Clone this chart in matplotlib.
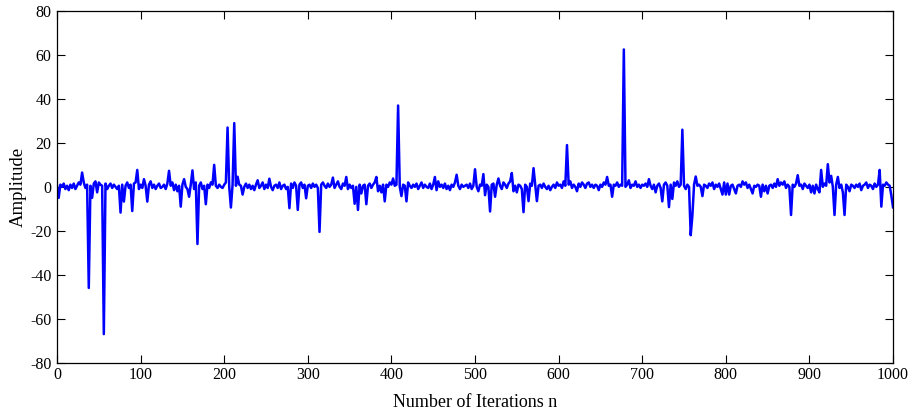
import matplotlib
matplotlib.use("Agg")
import matplotlib.pyplot as plt
import numpy as np

plt.rcParams['font.family'] = ['Liberation Serif', 'DejaVu Serif']
plt.rcParams['axes.unicode_minus'] = False

# amplitude, one value every 2 iterations (n = 0, 2, ..., 1000)
amp_rows = [
    [0.5, -5, 1, 0, 1.5, -1, 0.5, -1.5, 1, -0.5, 1.5, -1, 0.5, 2, 1, 6.5, 2, -0.5, 1, -46, 0.5, -5, 1.5, 2.5, -2.5],
    [2, 1, 0.5, -67, 1.5, -1, 0.5, 1.5, -0.5, 1, 0, -1, 0.5, -11.7, 1, -6.7, 0.5, 2, -0.5, 1, -11, 1.5, 2, 7.7, -1],
    [1, -0.5, 3.5, 0.5, -6.7, 1, 2.5, -0.5, 1, -1, 0.5, 1.5, -0.5, 0, 1, -1, 1.5, 7.3, 0.5, 2, -1.5, 1, -2, 0.5, -9],
    [1, 3.5, 0, -1, -4.5, 1, 7.5, -1, 2, -26, 0.5, 2, -1, 0.5, -7.9, 1, -0.5, 2, 1, 10, 0.5, -0.5, 1, 0, -0.5],
    [1, 2, 27, 0, -9.4, 1, 29, 0.5, 4.6, 1, 0.5, -3.5, 0, 1.5, -0.5, 1, -1, 0.5, -1.5, 1, 3, -0.5, 0.5, 2, -1],
    [1, -0.5, 3.7, 0, -1.5, 0.5, 1, -0.5, 2, -1, 0.5, 1, -1, 0, -9.7, 1.5, -0.5, 2, 0.5, -10.5, 1, 2, -0.5, 1, -5.2],
    [0.5, 1, -0.5, 1.5, 0, 1, -0.5, -20.5, 1, 2, 0.5, -0.5, 1.5, 0, 1, 4.2, -0.5, 1, 2.5, 0, -1, 1.5, 0.5, 4.5, -1],
    [1, -0.5, 0.5, -7.7, 0, -10.5, 1, -3, 0.5, 1, -7.9, 0.5, 1.5, -0.5, 1, 2, 4.5, -2, 0.5, -2.5, 1, -6.6, 1, 0, 2],
    [1, 3.8, 0.5, 1, 37, 0, -4.2, 1, 0.5, -6.6, 2, 0.5, -0.5, 1, 0, 1.5, -1, 0.5, 2, -0.5, 1, 0, -0.5, 1.5, -1],
    [1, 4.5, -1.5, 2.5, 0, 1, -0.5, 1.5, -1, 0.5, -1.5, 1, 0, 2, 5.5, 0.5, -1, 1, 0, 0.5, 1, -0.5, 1.5, -1, 0.5],
    [8, 0, -2, 1, 0.5, 5.8, -3.8, 1, 0, -11.2, 1, 1.5, -4.5, 1, 3.8, 0.5, -1, 2, 1, -0.5, 1.5, 2.5, 6.3, -2, 0.5],
    [-2.5, 1, 0.5, -1, -11.5, 1, 0, -6.5, 1.5, 0.5, 8.5, 1, -6.5, 0.5, 1, -0.5, 1.5, 0, -1, 0.5, -1.5, 0, 1, -0.5, 2],
    [0.5, 1, -0.5, 2.5, 0.5, 19, 1, 2.5, -0.5, 1, 0, -2, 1.5, 0, 2, 1, -0.5, 1.5, 2, 0, 1, -0.5, 1, 0.5, -1.5],
    [1, 0, 2, 1, 4.5, 0.5, 1, -4.5, 1, 0.5, 2, 0, 1, 0.5, 62.5, 0, 1, 3, -0.5, 1, 0.5, 2.5, 0, 1, -0.5],
    [1, 0.5, 1.5, 0, 3.5, 0.5, -1, 1, -2.5, 0.5, 1.5, -0.5, -6.6, 1, 2, 0.5, -9.2, 1, -5.5, 2, 0.5, 2.5, 0, 1, 26],
    [0.5, -1, 1, 0, -22, -13, 1, 4.7, 0.5, 1, 0, -4.2, 1, 0.5, -0.5, 1.5, 0.5, 2, -1, 1, 0, 1.5, -1, -3.5, 2],
    [-3.5, 1.5, -3.5, 0.5, 1, -1, -3, 0.5, 1, 0, 2.5, 1, 2, -0.5, 1, -1, -3, 0.5, 0, 1, 0.5, -4.5, 1, -2, 0.5],
    [-3, 0.5, 1, -0.5, 1.5, 0, 3.5, 0.5, 2, 1, 2.5, -0.5, 1, 0, -12.8, 1, 0, 1.5, 5.3, 0.5, 1, -1, 1.5, 0.5, -0.5],
    [1, -2.5, 0.5, -3, 1, -1, -2.5, 7.7, 0, 1.5, 0.5, 10.3, 2, 5, 0, -12.8, 1, 4.5, -0.5, 1, -2.5, -12.8, 1, 0, -2],
    [1, 0.5, -0.5, 1, 0, 1.5, -1.5, 0.5, 1, 2, -0.5, 1, 0.5, -1, 1.5, 0, 1, 7.7, -9, 1, 0.5, 2, 1, 0.5, -4],
    [-9.3],
]
amp = np.concatenate([np.array(r, dtype=float) for r in amp_rows])
n = np.arange(len(amp)) * 2

xticks = [0, 100, 200, 300, 400, 500, 600, 700, 800, 900, 1000]
yticks = [-80, -60, -40, -20, 0, 20, 40, 60, 80]

fig = plt.figure(figsize=(9.18, 4.17), dpi=100)
ax = fig.add_axes([0.0621, 0.1302, 0.9107, 0.8434])

ax.plot(n, amp, color='#0000ff', lw=1.8)

ax.set_xlim(0, 1000)
ax.set_ylim(-80, 80)
ax.set_xticks(xticks)
ax.set_yticks(yticks)
ax.tick_params(direction='in', top=True, right=True, length=6, width=0.8,
               labelsize=11.5, colors='black')
ax.tick_params(axis='x', pad=3)
ax.tick_params(axis='y', pad=4)
for s in ax.spines.values():
    s.set_linewidth(0.9)

ax.set_xlabel('Number of Iterations n', fontsize=13, labelpad=8)
ax.set_ylabel('Amplitude', fontsize=13.5, labelpad=2)

fig.savefig('out.png', dpi=100)
